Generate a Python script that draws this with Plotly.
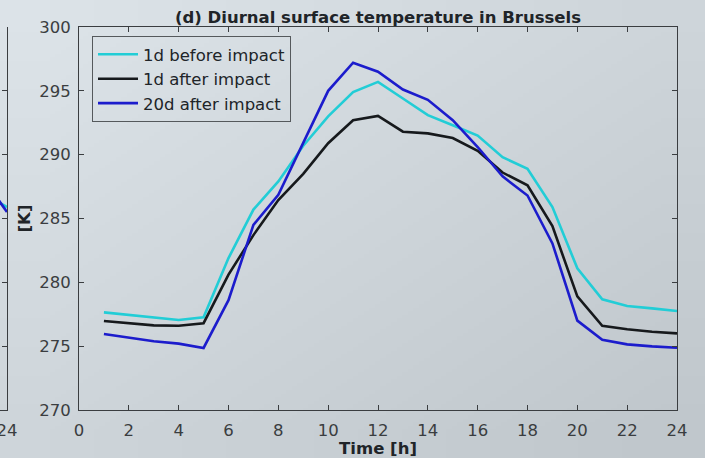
import base64, struct, zlib
import plotly.graph_objects as go

hours = list(range(1, 25))
before_1d = [277.65, 277.44, 277.23, 277.05, 277.26, 281.9, 285.7, 287.9, 290.7, 293.0, 294.9, 295.7,
             294.4, 293.1, 292.3, 291.5, 289.8, 288.9, 285.9, 281.1, 278.67, 278.15, 277.96, 277.75]
after_1d = [276.97, 276.8, 276.63, 276.6, 276.8, 280.6, 283.7, 286.45, 288.5, 290.9, 292.7, 293.03,
            291.8, 291.67, 291.3, 290.3, 288.6, 287.6, 284.4, 278.9, 276.6, 276.32, 276.13, 276.0]
after_20d = [275.95, 275.69, 275.38, 275.2, 274.86, 278.6, 284.5, 286.85, 290.9, 295.0, 297.2, 296.5,
             295.1, 294.3, 292.7, 290.6, 288.3, 286.8, 283.05, 277.0, 275.5, 275.14, 274.98, 274.88]
series_names = ["1d before impact", "1d after impact", "20d after impact"]
series_colors = ["#22cdd6", "#16191c", "#1c1ccc"]

# neighbouring (cropped) panel on the left: last hours only
left_hours = [23, 24]
left_before = [287.0, 285.9]
left_after20 = [288.3, 285.5]

x_ticks = list(range(0, 25, 2))
y_ticks = list(range(270, 301, 5))


def gradient_png(w, h, c_tl, c_br):
    rows = b""
    for j in range(h):
        rows += b"\x00"
        for i in range(w):
            t = (i / (w - 1)) * 0.5 + (j / (h - 1)) * 0.5
            px = bytes(int(round(a + (b - a) * t)) for a, b in zip(c_tl, c_br))
            rows += px

    def chunk(tag, data):
        c = struct.pack(">I", len(data)) + tag + data
        return c + struct.pack(">I", zlib.crc32(tag + data) & 0xffffffff)

    png = b"\x89PNG\r\n\x1a\n"
    png += chunk(b"IHDR", struct.pack(">IIBBBBB", w, h, 8, 2, 0, 0, 0))
    png += chunk(b"IDAT", zlib.compress(rows))
    png += chunk(b"IEND", b"")
    return "data:image/png;base64," + base64.b64encode(png).decode()


bg = gradient_png(8, 8, (220, 227, 232), (192, 199, 204))

FONT = "DejaVu Sans"
AX = "#3a3d40"
FS = 16.5

W, H = 705, 458
ML, MR, MT, MB = 0, 28, 27, 48
PW = W - ML - MR
PH = H - MT - MB
X0 = 79  # left edge of main panel (px)

fig = go.Figure()
for name, vals, col in zip(series_names, [before_1d, after_1d, after_20d], series_colors):
    fig.add_trace(go.Scatter(x=hours, y=vals, mode="lines", name=name,
                             line=dict(color=col, width=2.6)))

fig.add_trace(go.Scatter(x=left_hours, y=left_before, mode="lines", showlegend=False,
                         line=dict(color=series_colors[0], width=2.6), xaxis="x2", yaxis="y2"))
fig.add_trace(go.Scatter(x=left_hours, y=left_after20, mode="lines", showlegend=False,
                         line=dict(color=series_colors[2], width=2.6), xaxis="x2", yaxis="y2"))

axis_common = dict(showline=True, linecolor=AX, linewidth=1, mirror="ticks", ticks="inside",
                   ticklen=5, tickcolor=AX, showgrid=False, zeroline=False, automargin=False,
                   tickfont=dict(family=FONT, size=FS, color=AX))

fig.update_layout(
    width=W, height=H,
    margin=dict(l=ML, r=MR, t=MT, b=MB, autoexpand=False),
    paper_bgcolor="#cdd4d9", plot_bgcolor="rgba(0,0,0,0)",
    font=dict(family=FONT, color="#202428"),
    images=[dict(source=bg, xref="paper", yref="paper", x=-ML / PW, y=1 + MT / PH,
                 sizex=W / PW, sizey=H / PH, sizing="stretch", layer="below",
                 xanchor="left", yanchor="top")],
    title=dict(text="<b>(d) Diurnal surface temperature in Brussels</b>",
               x=(X0 + 677) / 2 / W, xref="container", xanchor="center", y=1 - 17 / H, yref="container",
               yanchor="middle", font=dict(family=FONT, size=16.5, color="#202428")),
    xaxis=dict(range=[0, 24], tickvals=x_ticks, domain=[X0 / PW, 1], ticklabelstandoff=5,
               title=dict(text="<b>Time [h]</b>", standoff=10,
                          font=dict(family=FONT, size=FS, color="#202428")),
               **axis_common),
    yaxis=dict(range=[270, 300], tickvals=y_ticks, ticklabelstandoff=4,
               title=dict(text="<b>[K]</b>", standoff=4,
                          font=dict(family=FONT, size=FS, color="#202428")),
               **axis_common),
    xaxis2=dict(domain=[0, 7 / PW], range=[23.72, 24], tickvals=[24], anchor="y2",
                showline=True, linecolor=AX, linewidth=1, ticks="", showgrid=False, zeroline=False,
                automargin=False, ticklabelstandoff=5, ticklabeloverflow="allow",
                tickfont=dict(family=FONT, size=FS, color=AX)),
    yaxis2=dict(range=[270, 300], tickvals=y_ticks, anchor="x2", side="right", automargin=False,
                showline=True, linecolor=AX, linewidth=1, ticks="inside", ticklen=5, tickcolor=AX,
                showticklabels=False, showgrid=False, zeroline=False),
    legend=dict(x=92 / PW, y=(410 - 36) / PH,
                xanchor="left", yanchor="top",
                bgcolor="rgba(0,0,0,0)", bordercolor="#55595c", borderwidth=1,
                font=dict(family=FONT, size=FS, color="#202428"), itemwidth=40,
                tracegroupgap=0),
    showlegend=True,
)

fig.write_html("out.html")
